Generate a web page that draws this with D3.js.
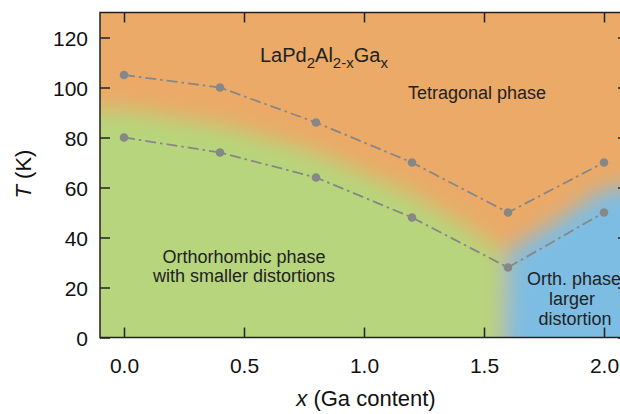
<!DOCTYPE html>
<html><head><meta charset="utf-8">
<script src="https://cdn.jsdelivr.net/npm/d3@7/dist/d3.min.js"></script>
<style>body{margin:0;background:#fff;} svg{display:block;font-family:"Liberation Sans",Arial,sans-serif;}</style>
</head><body>
<svg id="c" width="620" height="414"></svg>
<script>
const xValues = [0.0, 0.4, 0.8, 1.2, 1.6, 2.0];
const upperT = [105, 100, 86, 70, 50, 70];
const lowerT = [80, 74, 64, 48, 28, 50];
const xTicks = [0.0, 0.5, 1.0, 1.5, 2.0];
const yTicks = [0, 20, 40, 60, 80, 100, 120];
// approximate phase-region outlines (x, T) read from the shading
const greenRegion = [[-0.4,-20],[-0.4,92],[0,91],[0.4,85],[0.8,74],[1.2,57],[1.45,43],[1.58,34],[1.56,-20]];
const blueRegion = [[1.58,-20],[1.6,34],[1.8,46],[2.0,59],[2.4,64],[2.4,-20]];

const svg = d3.select("#c");
const m = {l:100, t:12.5, r:628, b:337.5};
const x = d3.scaleLinear().domain([-0.1, 2.1]).range([m.l, m.r]);
const y = d3.scaleLinear().domain([0, 130]).range([m.b, m.t]);

const defs = svg.append("defs");
defs.append("clipPath").attr("id","clip").append("rect")
  .attr("x", m.l).attr("y", m.t).attr("width", m.r-m.l).attr("height", m.b-m.t);
const f = defs.append("filter").attr("id","blur").attr("x","-50%").attr("y","-50%").attr("width","200%").attr("height","200%");
f.append("feGaussianBlur").attr("stdDeviation", 11);

const bg = svg.append("g").attr("clip-path","url(#clip)");
bg.append("rect").attr("x", m.l-50).attr("y", m.t-50).attr("width", m.r-m.l+100).attr("height", m.b-m.t+100).attr("fill","#EBAA68");
const blurG = bg.append("g").attr("filter","url(#blur)");
const poly = d3.line().x(d=>x(d[0])).y(d=>y(d[1]));
blurG.append("path").attr("d", poly(greenRegion)+"Z").attr("fill","#B7D57B");
blurG.append("path").attr("d", poly(blueRegion)+"Z").attr("fill","#7DBDE4");

// lines
const lineGen = d3.line().x(d=>x(d[0])).y(d=>y(d[1]));
[upperT, lowerT].forEach(arr=>{
  const pts = xValues.map((v,i)=>[v, arr[i]]);
  svg.append("path").attr("d", lineGen(pts)).attr("fill","none")
    .attr("stroke","#878787").attr("stroke-width",1.8).attr("stroke-dasharray","11,4,2.5,4");
  svg.selectAll(null).data(pts).enter().append("circle")
    .attr("cx", d=>x(d[0])).attr("cy", d=>y(d[1])).attr("r",4.3).attr("fill","#878787");
});

// frame
svg.append("rect").attr("x", m.l).attr("y", m.t).attr("width", m.r-m.l).attr("height", m.b-m.t)
  .attr("fill","none").attr("stroke","#222").attr("stroke-width",1.5);

// axes
const ax = svg.append("g").attr("transform",`translate(0,${m.b})`)
  .call(d3.axisBottom(x).tickValues(xTicks).tickFormat(d3.format(".1f")).tickSizeInner(-10).tickSizeOuter(0));
const axT = svg.append("g").attr("transform",`translate(0,${m.t})`)
  .call(d3.axisTop(x).tickValues(xTicks).tickFormat("").tickSizeInner(-10).tickSizeOuter(0));
const ay = svg.append("g").attr("transform",`translate(${m.l},0)`)
  .call(d3.axisLeft(y).tickValues(yTicks).tickSizeInner(-10).tickSizeOuter(0).tickPadding(12));
const ayR = svg.append("g").attr("transform",`translate(${m.r},0)`)
  .call(d3.axisRight(y).tickValues(yTicks).tickFormat("").tickSizeInner(-10).tickSizeOuter(0));
[ax, axT, ay, ayR].forEach(g=>{
  g.select(".domain").remove();
  g.selectAll(".tick line").attr("stroke","#222").attr("stroke-width",1.5);
  g.selectAll(".tick text").attr("fill","#111").style("font-size","21px").style("font-family","'Liberation Sans',Arial,sans-serif");
});
ax.selectAll(".tick text").attr("dy",null).attr("y", 35);
ay.selectAll(".tick text").attr("dy","0.36em");

// axis titles
const yl = svg.append("text").attr("transform","translate(31,174) rotate(-90)").attr("text-anchor","middle")
  .style("font-size","22px").attr("fill","#111");
yl.append("tspan").attr("font-style","italic").text("T");
yl.append("tspan").text(" (K)");
const xl = svg.append("text").attr("x", 366).attr("y", 406).attr("text-anchor","middle").style("font-size","22px").attr("fill","#111");
xl.append("tspan").attr("font-style","italic").text("x");
xl.append("tspan").text(" (Ga content)");

// annotations
const t1 = svg.append("text").attr("x", 260).attr("y", 62).style("font-size","20px").attr("fill","#222");
t1.append("tspan").text("LaPd");
t1.append("tspan").attr("dy",6).style("font-size","15px").text("2");
t1.append("tspan").attr("dy",-6).text("Al");
t1.append("tspan").attr("dy",6).style("font-size","15px").text("2-x");
t1.append("tspan").attr("dy",-6).text("Ga");
t1.append("tspan").attr("dy",6).style("font-size","15px").text("x");

const ann = [
  {t:"Tetragonal phase", x:477, y:99},
  {t:"Orthorhombic phase", x:244, y:263},
  {t:"with smaller distortions", x:244, y:282},
  {t:"Orth. phase", x:574, y:285},
  {t:"larger", x:572, y:305},
  {t:"distortion", x:575, y:325}
];
svg.selectAll(null).data(ann).enter().append("text")
  .attr("x", d=>d.x).attr("y", d=>d.y).attr("text-anchor","middle")
  .style("font-size","18px").attr("fill","#222").text(d=>d.t);
</script>
</body></html>
